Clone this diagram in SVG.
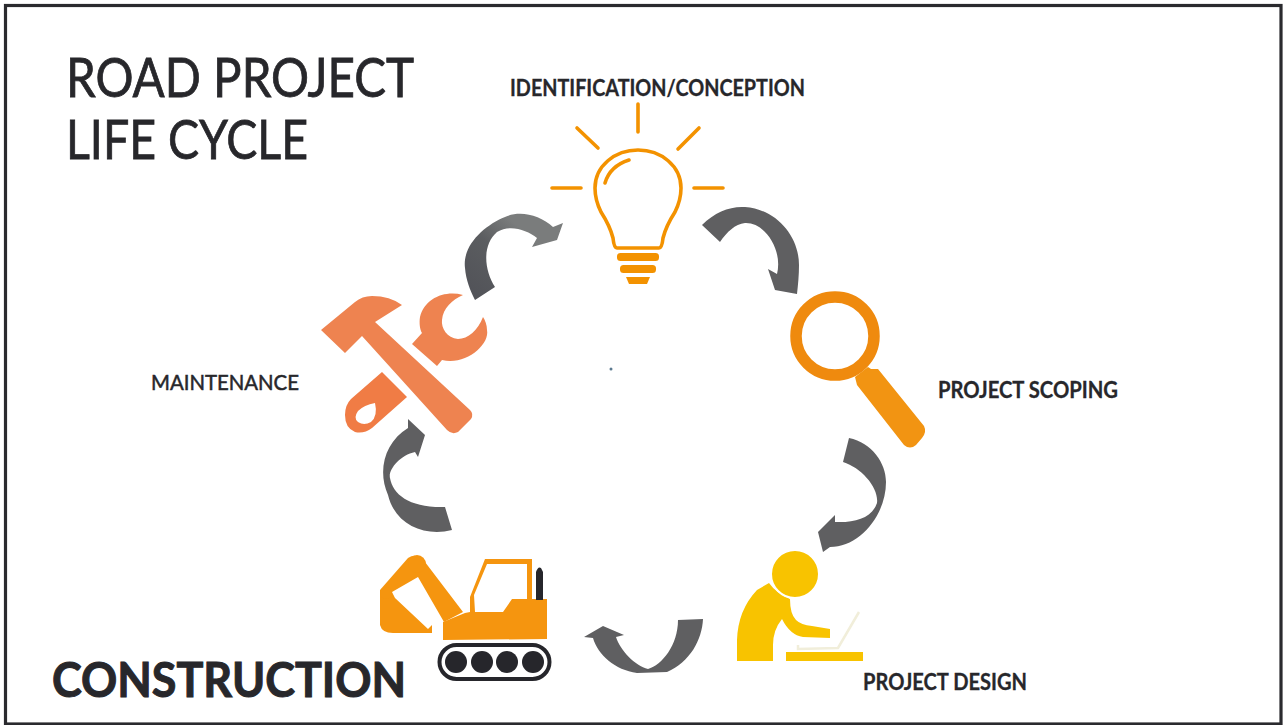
<svg xmlns="http://www.w3.org/2000/svg" width="1283" height="725" viewBox="0 0 1283 725">
<style>
text{font-family:"Lato","Open Sans","Liberation Sans",sans-serif;fill:#27272b;stroke:#27272b}
.title{font-size:55px;font-weight:400;stroke-width:.8}
.label{font-size:23px;font-weight:700;stroke-width:.3}
.bulb{fill:none;stroke:#f39200;stroke-width:3.6;stroke-linecap:round;stroke-linejoin:round}
.bulbfill{fill:#f39200}
.arrow{fill:#5f5f61}
.exc{fill:#f5950f}
</style>
<defs><linearGradient id="g" x1="0" y1="1" x2="1" y2="0"><stop offset="0" stop-color="#505157"/><stop offset="0.45" stop-color="#5b5d60"/><stop offset="0.7" stop-color="#7a7c7c"/></linearGradient></defs>
<rect x="0" y="0" width="1283" height="725" fill="#fff"/>
<rect x="5.500" y="5.500" width="1275.500" height="718.500" fill="none" stroke="#2a2a2e" stroke-width="3.200"/>
<g id="title">
<text class="title" x="66" y="97" textLength="348" lengthAdjust="spacingAndGlyphs">ROAD PROJECT</text>
<text class="title" x="66" y="159" textLength="242" lengthAdjust="spacingAndGlyphs">LIFE CYCLE</text>
</g>
<g id="node-identification">
<text class="label" x="510" y="96" textLength="295" lengthAdjust="spacingAndGlyphs">IDENTIFICATION/CONCEPTION</text>
<path class="bulb" d="M638 104V132M577 128L598 148M699 128L678 149M552 188H581M694 188H723"/>
<path class="bulb" d="M617 248Q614 248 613 238Q610 226 601 212Q595 200 595 188C595 166 615 150 638 150C661 150 681 166 681 188Q681 200 675 212Q666 226 663 238Q662 248 659 248Z"/>
<path class="bulb" d="M605 183Q610 166 629 160"/>
<rect class="bulbfill" x="617" y="253" width="42" height="8" rx="3.500"/>
<rect class="bulbfill" x="620" y="265" width="36" height="8" rx="3.500"/>
<path class="bulbfill" d="M626 277H650L647 284H629Z"/>
</g>
<g id="node-scoping">
<text class="label" x="938" y="398" textLength="180" lengthAdjust="spacingAndGlyphs">PROJECT SCOPING</text>
<circle cx="835" cy="336" r="39" fill="none" stroke="#ef8a0e" stroke-width="11.500"/>
<path d="M855 377L868 367L871 369L878 369L924 426Q927 432 922 438L916 445Q910 450 904 445L857 385Z" fill="#f29412"/>
</g>
<g id="node-design">
<text class="label" x="863" y="690" textLength="164" lengthAdjust="spacingAndGlyphs">PROJECT DESIGN</text>
<path d="M737 661V640Q738 610 757 590L769 583Q776 593 790 599Q790 614 796 620Q801 625 812 626L830 629V638L803 637Q790 635 782 619Q773 630 773 645V661Z" fill="#f8c300"/>
<circle cx="795" cy="574" r="24" fill="#f8c300" stroke="#fff" stroke-width="2"/>
<rect x="786" y="652" width="77" height="9" fill="#f8c300"/>
<path d="M798 645V649L838 648L859 612" fill="none" stroke="#f1eeda" stroke-width="2.500"/>
</g>
<g id="node-construction">
<text x="52" y="697" font-size="47" font-weight="700" stroke-width="1" textLength="354" lengthAdjust="spacingAndGlyphs">CONSTRUCTION</text>
<path class="exc" d="M444 622L463 612L425 562Q417 552 408 558L380 590L380 625Q382 633 393 633L432 633V625L428 629L395 598L392 592L418 577Z"/>
<circle class="exc" cx="417" cy="564" r="9"/>
<circle class="exc" cx="386" cy="593" r="6"/>
<path class="exc" d="M443 640V622L465 613L470 612V597L485 559H532V599H547V639Z"/>
<path d="M475 612L474 595L487 564H527V599H512L503 612Z" fill="#fff"/>
<path d="M536 600V572Q538 566 541 568L543 572V600Z" fill="#26262b"/>
<rect x="439.500" y="645" width="110" height="34" rx="17" fill="none" stroke="#26262b" stroke-width="4"/>
<g fill="#26262b"><circle cx="456" cy="662" r="11"/><circle cx="482" cy="662" r="11"/><circle cx="507" cy="662" r="11"/><circle cx="533" cy="662" r="11"/></g>
</g>
<g id="node-maintenance">
<text x="151" y="390" font-size="21" font-weight="400" stroke-width=".5" textLength="148" lengthAdjust="spacingAndGlyphs">MAINTENANCE</text>
<path d="M321 330L345 353L362 336L447 430Q452 435 458 432L471 419Q474 414 470 410L375 322L402 305Q390 296 372 296Q362 296 355 302Z" fill="#ee8350"/>
<path d="M412 344L437 366L442 360C465 366 490 345 487 330C487 325 485 320 483 317C478 330 468 339 458 339C447 338 441 328 442 320C443 308 452 300 463 295C445 290 425 298 420 317C419 323 420 330 422 333Z" fill="#ee8350"/>
<path fill-rule="evenodd" d="M382 372L407 397L372 428Q364 434 355 432Q345 428 345 415Q345 405 351 399ZM375 403Q364 405 358 411Q353 418 358 422Q364 426 371 422Q378 416 375 403Z" fill="#f07c45"/>
</g>
<g id="connectors">
<path class="arrow" d="M702 225C715 212 730 206 745 207C775 209 799 235 799 265C799 275 798 285 797 294L775 290L768 269L777 274C783 250 765 222 745 223C735 224 727 232 720 242Z"/>
<path class="arrow" d="M849 438C872 443 886 463 886 482C886 515 860 547 830 547L823 552L818 532L835 515L835 522C855 523 872 518 877 503C879 488 862 468 843 462Z"/>
<path class="arrow" d="M678 620L703 619C702 640 690 662 667 672L637 673C615 670 598 655 593 638L584 637L603 626L624 635L616 637C620 650 635 666 648 669C662 665 678 645 678 620Z"/>
<path class="arrow" d="M445 507L452 530C425 537 395 525 388 495C377 470 385 442 408 428L408 419L425 435L418 457L415 452C400 455 388 470 390 478C393 495 410 508 445 507Z"/>
<path fill="url(#g)" d="M475 300L495 287C484 270 482 245 497 232C510 224 527 230 537 238L532 247L557 240L563 223L553 227C540 215 520 210 505 217C485 225 462 245 465 268C466 280 470 290 475 300Z"/>
</g>
<circle id="speck" cx="611" cy="369" r="1.500" fill="#5c7a90"/>
</svg>
